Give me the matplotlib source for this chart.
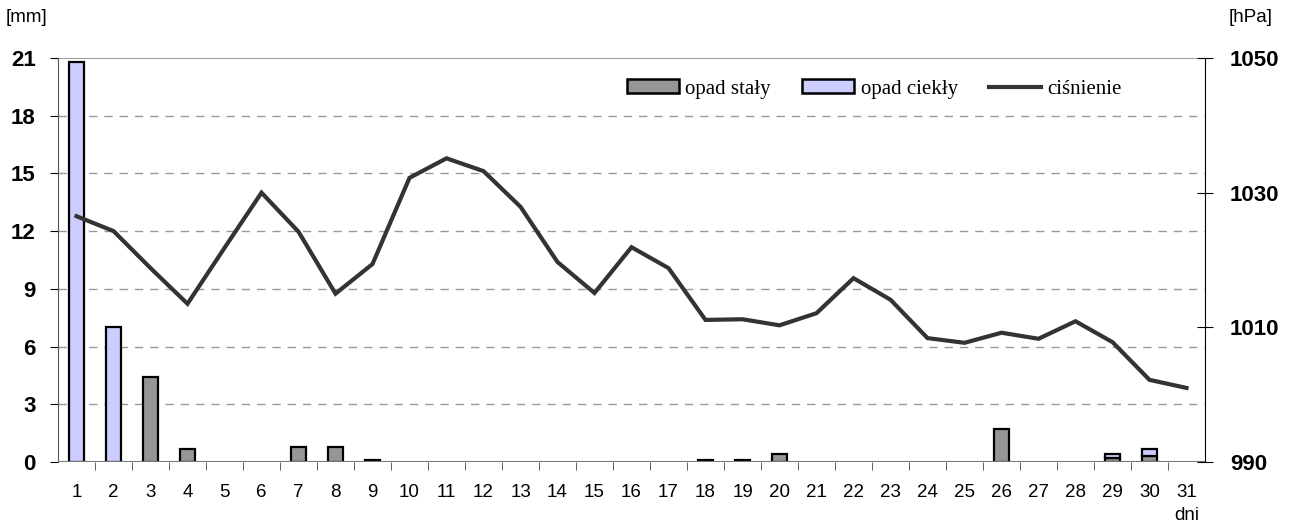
import matplotlib
matplotlib.use("Agg")
import matplotlib.pyplot as plt
import numpy as np
from matplotlib.patches import Patch
from matplotlib.lines import Line2D

days = list(range(1, 32))
opad_staly = [0, 0, 4.4, 0.7, 0, 0, 0.8, 0.8, 0.1, 0, 0, 0, 0, 0, 0, 0, 0, 0.1, 0.1, 0.4,
              0, 0, 0, 0, 0, 1.7, 0, 0, 0.2, 0.3, 0]
opad_ciekly = [20.8, 7.0, 0, 0, 0, 0, 0, 0, 0, 0, 0, 0, 0, 0, 0, 0, 0, 0, 0, 0,
               0, 0, 0, 0, 0, 0, 0, 0, 0.2, 0.4, 0]
cisnienie = [1026.5, 1024.3, 1018.8, 1013.5, 1021.8, 1030.0, 1024.2, 1015.0, 1019.4, 1032.2,
             1035.1, 1033.2, 1027.9, 1019.7, 1015.1, 1021.9, 1018.8, 1011.1, 1011.2, 1010.3,
             1012.1, 1017.3, 1014.1, 1008.4, 1007.7, 1009.2, 1008.3, 1010.9, 1007.8, 1002.2,
             1001.0]
left_ticks = [0, 3, 6, 9, 12, 15, 18, 21]
right_ticks = [990, 1010, 1030, 1050]

c_solid = "#969696"
c_liquid = "#ccccff"
c_line = "#333333"

W, H = 1297, 527
fig = plt.figure(figsize=(W / 100, H / 100), dpi=100)
ax = fig.add_axes([58 / W, 1 - 462 / H, (1205 - 58) / W, (462 - 58) / H])
ax2 = ax.twinx()

x = np.array(days)
w = 0.4
s = np.array(opad_staly)
l = np.array(opad_ciekly)
ms = s > 0
ml = l > 0
ax.bar(x[ms], s[ms], width=w, color=c_solid, edgecolor="black", linewidth=1.6, zorder=3)
ax.bar(x[ml], l[ml], width=w, bottom=s[ml], color=c_liquid, edgecolor="black", linewidth=1.6, zorder=3)

ax.set_xlim(0.5, 31.5)
ax.set_ylim(0, 21)
ax.set_yticks(left_ticks)
ax.set_yticklabels([str(t) for t in left_ticks], fontsize=16, fontweight="bold", family="Liberation Sans")
for t in left_ticks[1:-1]:
    ax.axhline(t, color="#999999", linestyle=(0, (6, 5)), linewidth=1.0, zorder=1)
ax.axhline(21, color="#888888", linewidth=1.2, zorder=1)
ax.axhline(0, color="#777777", linewidth=1.5, zorder=4)

ax.set_xticks(x)
ax.set_xticklabels([str(d) for d in days], fontsize=13.5, family="Liberation Sans")
ax.set_xticks(np.arange(1.5, 31.5, 1), minor=True)
ax.tick_params(axis="x", which="major", length=0, pad=16)
ax.tick_params(axis="x", which="minor", length=6, direction="out", color="#444444")
ax.tick_params(axis="y", length=6, direction="out", pad=10)

for sp in ["top", "bottom"]:
    ax.spines[sp].set_visible(False)
    ax2.spines[sp].set_visible(False)
ax.spines["left"].set_color("#555555")
ax2.spines["left"].set_visible(False)
ax.spines["right"].set_visible(False)
ax2.spines["right"].set_color("black")

ax2.plot(x, cisnienie, color=c_line, linewidth=3.0, solid_joinstyle="miter", zorder=5)
ax2.set_ylim(990, 1050)
ax2.set_yticks(right_ticks)
ax2.set_yticklabels([str(t) for t in right_ticks], fontsize=16, fontweight="bold", family="Liberation Sans")
ax2.tick_params(axis="y", length=12, direction="inout", pad=12)

fig.text(6 / W, 1 - 18 / H, "[mm]", fontsize=13.5, family="Liberation Sans", ha="left", va="center")
fig.text(1229 / W, 1 - 18 / H, "[hPa]", fontsize=13.5, family="Liberation Sans", ha="left", va="center")
fig.text(1187 / W, 1 - 516 / H, "dni", fontsize=13.5, family="Liberation Sans", ha="center", va="center")

handles = [Patch(facecolor=c_solid, edgecolor="black", linewidth=1.8),
           Patch(facecolor=c_liquid, edgecolor="black", linewidth=1.8),
           Line2D([0], [0], color=c_line, linewidth=3.0)]
labels = ["opad stały", "opad ciekły", "ciśnienie"]
leg = fig.legend(handles, labels, loc="center left", bbox_to_anchor=(627 / W, 1 - 89 / H), ncol=3,
                 frameon=False, prop={"family": "Liberation Serif", "size": 15},
                 handlelength=2.5, handleheight=0.65, handletextpad=0.3, columnspacing=1.5,
                 borderpad=0, borderaxespad=0)

fig.savefig("out.png", dpi=100)
